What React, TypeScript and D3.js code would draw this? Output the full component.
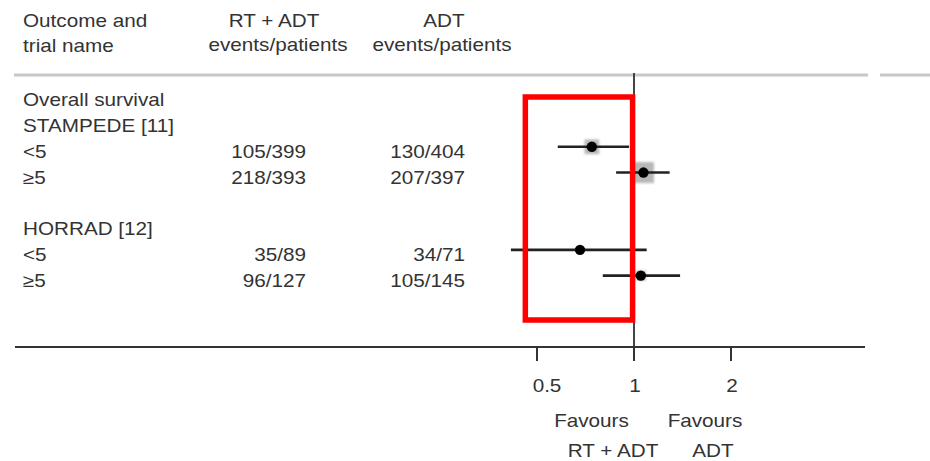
import React from "react";
import * as d3 from "d3";

const headerOutcome = ["Outcome and", "trial name"];
const headerRT = ["RT + ADT", "events/patients"];
const headerADT = ["ADT", "events/patients"];

const rowLabels = ["Overall survival", "STAMPEDE [11]", "<5", "≥5", "", "HORRAD [12]", "<5", "≥5"];
const rtEvents = ["", "", "105/399", "218/393", "", "", "35/89", "96/127"];
const adtEvents = ["", "", "130/404", "207/397", "", "", "34/71", "105/145"];

const estRows = [2, 3, 6, 7];
const hr = [0.74, 1.07, 0.68, 1.05];
const ciLow = [0.58, 0.88, 0.415, 0.80];
const ciHigh = [0.965, 1.29, 1.095, 1.39];
const weight = [22, 45, 3, 10];

const tickValues = [0.5, 1, 2];
const tickLabels = ["0.5", "1", "2"];
const favoursLeft = ["Favours", "RT + ADT"];
const favoursRight = ["Favours", "ADT"];
const highlight = [0.46, 0.99];

const W = 930;
const H = 461;
const FS = 18;
const SX = 1.15;
const TXT = "#333";

function T({ x, y, anchor = "start", children, size = FS }: any) {
  return (
    <text
      transform={`translate(${x},${y}) scale(${SX},1)`}
      textAnchor={anchor}
      fontFamily="'Liberation Sans', Arial, sans-serif"
      fontSize={size}
      fill={TXT}
    >
      {children}
    </text>
  );
}

export default function App() {
  const x = d3.scaleLog().base(2).domain([0.5, 2]).range([537, 731]);
  const y = d3.scaleLinear().domain([0, 7]).range([106.3, 286.6]);
  const lineY = (i: number) => y(i) - 11;
  const sq = d3.scaleSqrt().domain([0, 45]).range([0, 21]);

  const axisY = 347;
  const topLineY = 75;
  const x1 = x(1);

  return (
    <svg
      width={W}
      height={H}
      style={{ position: "absolute", left: 0, top: 0, background: "#fff" }}
    >
      <defs>
        <filter id="blur" x="-50%" y="-50%" width="200%" height="200%">
          <feGaussianBlur stdDeviation="1.2" />
        </filter>
      </defs>
      <rect x={0} y={0} width={W} height={H} fill="#fff" />

      {/* header */}
      <T x={23} y={27}>{headerOutcome[0]}</T>
      <T x={23} y={52}>{headerOutcome[1]}</T>
      <T x={274} y={27} anchor="middle">{headerRT[0]}</T>
      <T x={278} y={51} anchor="middle">{headerRT[1]}</T>
      <T x={444} y={27} anchor="middle">{headerADT[0]}</T>
      <T x={442} y={51} anchor="middle">{headerADT[1]}</T>

      {/* top separator */}
      <line x1={14} x2={868} y1={topLineY} y2={topLineY} stroke="#c8c8c8" strokeWidth={3} />
      <line x1={880} x2={930} y1={topLineY} y2={topLineY} stroke="#c8c8c8" strokeWidth={3} />

      {/* rows */}
      {rowLabels.map((l, i) =>
        l ? <T key={"l" + i} x={23} y={y(i)}>{l}</T> : null
      )}
      {rtEvents.map((v, i) =>
        v ? <T key={"r" + i} x={306} y={y(i)} anchor="end">{v}</T> : null
      )}
      {adtEvents.map((v, i) =>
        v ? <T key={"a" + i} x={465} y={y(i)} anchor="end">{v}</T> : null
      )}

      {/* reference line */}
      <line x1={x1} x2={x1} y1={topLineY - 2} y2={axisY} stroke="#444" strokeWidth={2} />

      {/* estimates */}
      {estRows.map((r, k) => {
        const cy = lineY(r);
        const s = sq(weight[k]);
        return (
          <g key={"e" + k}>
            <rect
              x={x(hr[k]) - s / 2}
              y={cy - s / 2}
              width={s}
              height={s}
              fill="#b8b8b8"
              filter="url(#blur)"
            />
            <line x1={x(ciLow[k])} x2={x(ciHigh[k])} y1={cy} y2={cy} stroke="#222" strokeWidth={2.6} />
            <circle cx={x(hr[k])} cy={cy} r={5.2} fill="#000" />
          </g>
        );
      })}

      {/* highlight box */}
      <rect
        x={x(highlight[0])}
        y={97}
        width={x(highlight[1]) - x(highlight[0])}
        height={223}
        fill="none"
        stroke="#ff0000"
        strokeWidth={5.5}
      />

      {/* axis */}
      <line x1={15} x2={865} y1={axisY} y2={axisY} stroke="#333" strokeWidth={2} />
      {tickValues.map((t, i) => (
        <g key={"t" + i}>
          <line x1={x(t)} x2={x(t)} y1={axisY} y2={axisY + 14} stroke="#333" strokeWidth={2} />
          <T x={x(t) + (t < 1 ? 10 : 1)} y={391.5} anchor="middle">{tickLabels[i]}</T>
        </g>
      ))}

      <T x={x1 - 42.5} y={427} anchor="middle">{favoursLeft[0]}</T>
      <T x={x1 - 21} y={457} anchor="middle">{favoursLeft[1]}</T>
      <T x={x1 + 71} y={427} anchor="middle">{favoursRight[0]}</T>
      <T x={x1 + 79} y={457} anchor="middle">{favoursRight[1]}</T>
    </svg>
  );
}
